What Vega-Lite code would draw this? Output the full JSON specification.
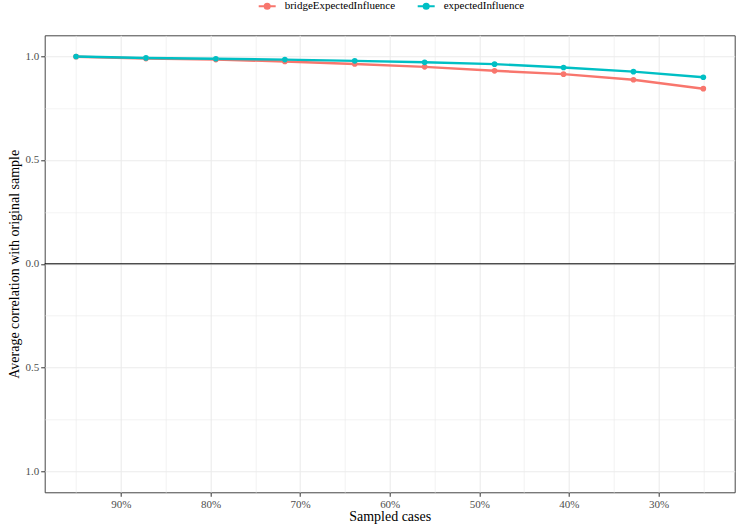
{
  "$schema": "https://vega.github.io/schema/vega-lite/v6.json",
  "width": 690,
  "height": 457,
  "autosize": {"type": "none"},
  "padding": {"left": 44.7, "top": 35.3, "right": 6, "bottom": 34.3},
  "background": "white",
  "config": {
    "font": "Liberation Serif",
    "axis": {"labelFont": "Liberation Serif", "titleFont": "Liberation Serif"},
    "legend": {"labelFont": "Liberation Serif", "titleFont": "Liberation Serif"},
    "view": {"stroke": "#444444", "strokeWidth": 1}
  },
  "data": {
    "values": [
      {"series": "bridgeExpectedInfluence", "sampled": 95.0, "corr": 0.997},
      {"series": "bridgeExpectedInfluence", "sampled": 87.2, "corr": 0.988},
      {"series": "bridgeExpectedInfluence", "sampled": 79.4, "corr": 0.983},
      {"series": "bridgeExpectedInfluence", "sampled": 71.7, "corr": 0.974},
      {"series": "bridgeExpectedInfluence", "sampled": 63.9, "corr": 0.962},
      {"series": "bridgeExpectedInfluence", "sampled": 56.1, "corr": 0.948},
      {"series": "bridgeExpectedInfluence", "sampled": 48.3, "corr": 0.929},
      {"series": "bridgeExpectedInfluence", "sampled": 40.6, "corr": 0.913},
      {"series": "bridgeExpectedInfluence", "sampled": 32.8, "corr": 0.886},
      {"series": "bridgeExpectedInfluence", "sampled": 25.0, "corr": 0.843},
      {"series": "expectedInfluence", "sampled": 95.0, "corr": 0.998},
      {"series": "expectedInfluence", "sampled": 87.2, "corr": 0.991},
      {"series": "expectedInfluence", "sampled": 79.4, "corr": 0.987},
      {"series": "expectedInfluence", "sampled": 71.7, "corr": 0.983},
      {"series": "expectedInfluence", "sampled": 63.9, "corr": 0.977},
      {"series": "expectedInfluence", "sampled": 56.1, "corr": 0.970},
      {"series": "expectedInfluence", "sampled": 48.3, "corr": 0.961},
      {"series": "expectedInfluence", "sampled": 40.6, "corr": 0.945},
      {"series": "expectedInfluence", "sampled": 32.8, "corr": 0.925},
      {"series": "expectedInfluence", "sampled": 25.0, "corr": 0.898}
    ]
  },
  "encoding": {
    "x": {
      "field": "sampled",
      "type": "quantitative",
      "scale": {"domain": [21.5, 98.5], "reverse": true, "nice": false, "zero": false},
      "axis": {
        "values": [95, 90, 85, 80, 75, 70, 65, 60, 55, 50, 45, 40, 35, 30, 25],
        "labelExpr": "datum.value % 10 === 0 ? datum.value + '%' : ''",
        "title": "Sampled cases",
        "titleFont": "Liberation Serif",
        "titleFontSize": 14,
        "titleFontWeight": "normal",
        "titleColor": "black",
        "titlePadding": 0,
        "labelFont": "Liberation Serif",
        "labelFontSize": 11,
        "labelColor": "#4D4D4D",
        "labelPadding": 2,
        "labelFlush": false,
        "labelOverlap": false,
        "tickColor": "#333333",
        "tickSize": 4,
        "tickOpacity": {"condition": {"test": "datum.value % 10 !== 0", "value": 0}, "value": 1},
        "domain": false,
        "gridColor": "#EBEBEB",
        "gridWidth": {"condition": {"test": "datum.value % 10 !== 0", "value": 0.6}, "value": 1.1}
      }
    },
    "y": {
      "field": "corr",
      "type": "quantitative",
      "scale": {"domain": [-1.1, 1.1], "nice": false, "zero": false},
      "axis": {
        "values": [-1, -0.75, -0.5, -0.25, 0, 0.25, 0.5, 0.75, 1],
        "labelExpr": "abs(datum.value) % 0.5 === 0 ? format(abs(datum.value), '.1f') : ''",
        "title": "Average correlation with original sample",
        "titleFont": "Liberation Serif",
        "titleFontSize": 14,
        "titleFontWeight": "normal",
        "titleColor": "black",
        "titlePadding": 3,
        "labelFont": "Liberation Serif",
        "labelFontSize": 11,
        "labelColor": "#4D4D4D",
        "labelPadding": 2,
        "labelFlush": false,
        "labelOverlap": false,
        "tickColor": "#333333",
        "tickSize": 4,
        "tickOpacity": {"condition": {"test": "abs(datum.value) % 0.5 !== 0", "value": 0}, "value": 1},
        "domain": false,
        "gridColor": "#EBEBEB",
        "gridWidth": {"condition": {"test": "abs(datum.value) % 0.5 !== 0", "value": 0.6}, "value": 1.1}
      }
    },
    "color": {
      "field": "series",
      "type": "nominal",
      "scale": {"domain": ["bridgeExpectedInfluence", "expectedInfluence"], "range": ["#F8766D", "#00BFC4"]},
      "legend": {
        "orient": "none",
        "legendX": 213,
        "legendY": -39,
        "direction": "horizontal",
        "title": null,
        "symbolType": "M-1,0L1,0M-0.3,0A0.3,0.3,0,1,1,0.3,0A0.3,0.3,0,1,1,-0.3,0Z",
        "symbolSize": 289,
        "symbolStrokeWidth": 2,
        "labelFont": "Liberation Serif",
        "labelFontSize": 11,
        "labelColor": "black",
        "labelOffset": 8,
        "columnPadding": 18
      }
    }
  },
  "layer": [
    {"mark": {"type": "line", "strokeWidth": 2.4}},
    {"mark": {"type": "point", "filled": true, "size": 32, "opacity": 1}},
    {
      "data": {"values": [{"zero": 0}]},
      "mark": {"type": "rule", "color": "black", "strokeWidth": 1},
      "encoding": {"y": {"field": "zero", "type": "quantitative"}, "x": null, "color": null}
    }
  ]
}
